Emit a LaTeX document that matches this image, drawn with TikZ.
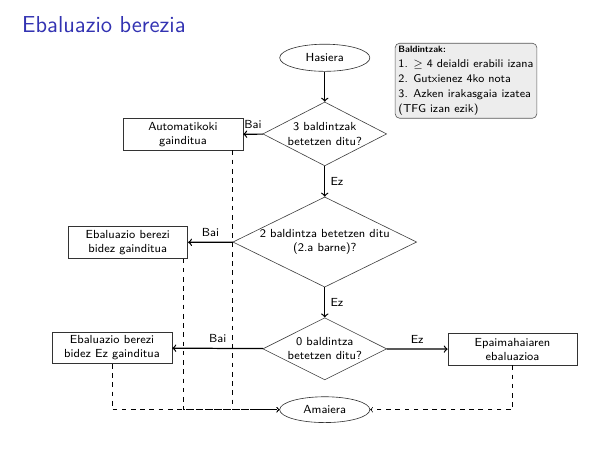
\documentclass[tikz,border=0pt]{standalone}
\usepackage{tikz}
\usetikzlibrary{shapes.geometric}
\definecolor{izenburua}{rgb}{0.2,0.2,0.7}
\definecolor{oharfondo}{gray}{0.93}
\definecolor{oharmarra}{gray}{0.35}

\tikzset{
  testua/.style={font=\sffamily\fontsize{7.6}{9.2}\selectfont},
  kutxa/.style={testua, rectangle, draw=black!80, align=center, minimum width=2.74cm, minimum height=0.72cm, inner sep=1pt},
  galdera/.style={testua, diamond, draw=black!75, align=center, aspect=2, inner sep=0pt},
  muga/.style={testua, ellipse, draw=black!80, minimum width=2.06cm, minimum height=0.62cm, inner sep=0pt},
  gezia/.style={->, thick},
  etena/.style={->, dashed}
}

\begin{document}
\begin{tikzpicture}
        \useasboundingbox (0,0) rectangle (13.64,10.71);
        \node[anchor=base west, text=izenburua, font=\sffamily\fontsize{15}{18}\selectfont, inner sep=0pt] (izenburua) at (0.50,9.96) {Ebaluazio berezia};
        \node[anchor=north west, draw=oharmarra, fill=oharfondo, rounded corners=3pt, align=left, inner sep=2.2pt, font=\sffamily\fontsize{7.4}{9.6}\selectfont] (baldintzak) at (9.02,9.73) {{\bfseries\fontsize{6}{8}\selectfont Baldintzak:}\\1. $\geq$ 4 deialdi erabili izana\\2. Gutxienez 4ko nota\\3. Azken irakasgaia izatea\\(TFG izan ezik)};
        \node[muga] (hasiera) at (7.42,9.39) {Hasiera};
        \node[galdera, minimum width=2.83cm, minimum height=1.46cm] (g1) at (7.42,7.65) {3 baldintzak\\betetzen ditu?};
        \node[kutxa] (b1) at (4.18,7.64) {Automatikoki\\gainditua};
        \node[galdera, minimum width=4.20cm, minimum height=2.06cm] (g2) at (7.42,5.18) {2 baldintza betetzen ditu\\(2.a barne)?};
        \node[kutxa] (b2) at (2.92,5.17) {Ebaluazio berezi\\bidez gainditua};
        \node[galdera, minimum width=2.83cm, minimum height=1.42cm] (g3) at (7.42,2.74) {0 baldintza\\betetzen ditu?};
        \node[kutxa] (b3) at (2.56,2.76) {Ebaluazio berezi\\bidez Ez gainditua};
        \node[kutxa, minimum width=2.95cm] (b4) at (11.71,2.73) {Epaimahaiaren\\ebaluazioa};
        \node[muga, minimum height=0.59cm] (amaiera) at (7.42,1.35) {Amaiera};
        \draw[gezia] (hasiera) -- (g1);
        \draw[gezia] (g1) -- node[testua, above]{Bai} (b1);
        \draw[gezia] (g1) -- node[testua, right]{Ez} (g2);
        \draw[gezia] (g2) -- node[testua, above]{Bai} (b2);
        \draw[gezia] (g2) -- node[testua, right]{Ez} (g3);
        \draw[gezia] (g3) -- node[testua, above]{Bai} (b3);
        \draw[gezia] (g3) -- node[testua, above]{Ez} (b4);
        \draw[etena] (b3.south) |- (amaiera.west);
        \draw[etena] ([xshift=-0.1cm]b2.south east) |- (amaiera.west);
        \draw[etena] ([xshift=-0.25cm]b1.south east) |- (amaiera.west);
        \draw[etena] (b4.south) |- (amaiera.east);
    \end{tikzpicture}
\end{document}
